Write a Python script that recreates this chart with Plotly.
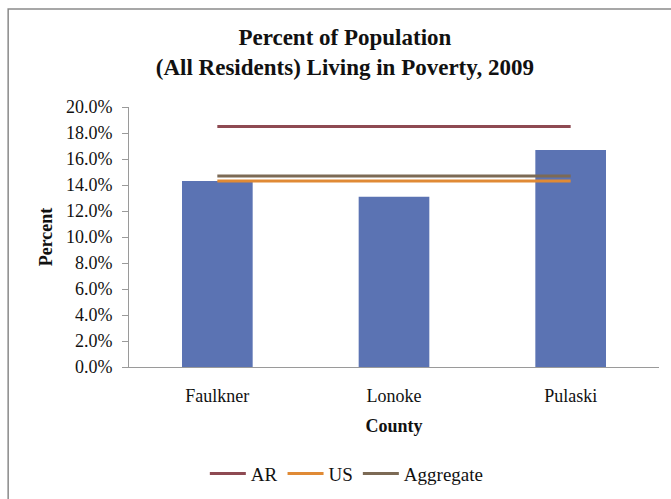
import plotly.graph_objects as go

counties = ["Faulkner", "Lonoke", "Pulaski"]
poverty_pct = [14.3, 13.1, 16.7]
ar_pct = [18.5, 18.5, 18.5]
us_pct = [14.3, 14.3, 14.3]
aggregate_pct = [14.7, 14.7, 14.7]
y_ticks = [0, 2, 4, 6, 8, 10, 12, 14, 16, 18, 20]
y_tick_labels = [f"{v:.1f}%" for v in y_ticks]

serif = "Liberation Serif, Times New Roman, serif"

fig = go.Figure()
fig.add_trace(go.Bar(
    x=counties, y=poverty_pct, marker=dict(color="#5B73B3", line=dict(width=0)),
    width=0.4, showlegend=False, hoverinfo="x+y",
))
fig.add_trace(go.Scatter(x=counties, y=ar_pct, mode="lines", name="AR",
                         line=dict(color="#8E4A52", width=3)))
fig.add_trace(go.Scatter(x=counties, y=us_pct, mode="lines", name="US",
                         line=dict(color="#E08A35", width=3)))
fig.add_trace(go.Scatter(x=counties, y=aggregate_pct, mode="lines", name="Aggregate",
                         line=dict(color="#7C6A55", width=3)))

fig.update_layout(
    width=671, height=499,
    margin=dict(l=129, r=12, t=107, b=132, autoexpand=False),
    paper_bgcolor="white", plot_bgcolor="white",
    font=dict(family=serif, size=18, color="#111111"),
    title=dict(
        text="<b>Percent of Population<br>(All Residents) Living in Poverty, 2009</b>",
        x=0.514, xanchor="center", y=0.91, yanchor="middle",
        font=dict(family=serif, size=23, color="#111111"),
    ),
    xaxis=dict(
        title=dict(text="<b>County</b>", font=dict(size=18), standoff=14),
        showline=True, linecolor="#9a9a9a", linewidth=1,
        ticks="", showgrid=False, tickfont=dict(size=18), range=[-0.5, 2.5],
        ticklabelstandoff=12, automargin=False,
    ),
    yaxis=dict(
        title=dict(text="<b>Percent</b>", font=dict(size=18), standoff=8),
        range=[0, 20], tickvals=y_ticks, ticktext=y_tick_labels,
        showline=True, linecolor="#9a9a9a", linewidth=1,
        ticks="outside", ticklen=6, tickcolor="#9a9a9a",
        showgrid=False, zeroline=False, tickfont=dict(size=18),
        ticklabelstandoff=6, automargin=False,
    ),
    legend=dict(
        orientation="h", x=0.411, xanchor="center", y=-0.41, yanchor="middle",
        font=dict(size=19), tracegroupgap=0, itemwidth=36,
    ),
    shapes=[dict(
        type="rect", xref="paper", yref="paper",
        x0=-0.228, x1=1.1, y0=-0.6, y1=1.377,
        line=dict(color="#8a8a8a", width=1.5), fillcolor="rgba(0,0,0,0)",
        layer="below",
    )],
    bargap=0.6,
)

fig.write_html("out.html")
